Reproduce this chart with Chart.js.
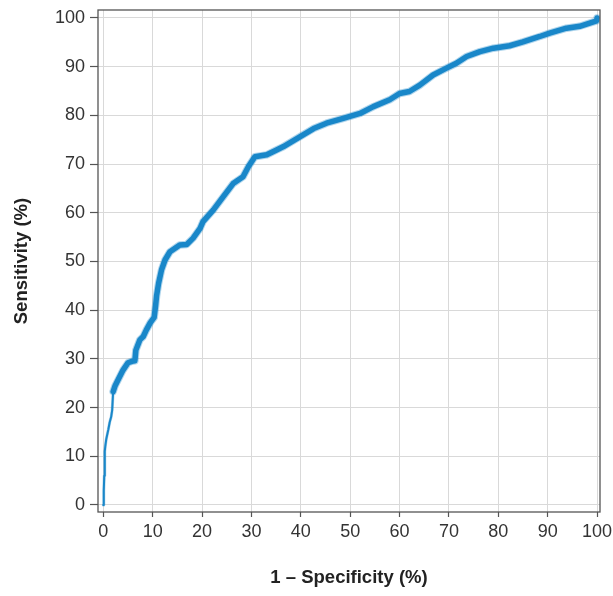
<!DOCTYPE html>
<html>
<head>
<meta charset="utf-8">
<script src="https://cdn.jsdelivr.net/npm/chart.js@4/dist/chart.umd.min.js"></script>
<style>
  html, body { margin: 0; padding: 0; background: #ffffff; }
  #wrap { width: 613px; height: 596px; position: relative; }
</style>
</head>
<body>
<div id="wrap"><canvas id="c" width="613" height="596"></canvas></div>
<script>
// ROC curve (1 - specificity %, sensitivity %)
const fpr = [
  0, 0.1, 0.2, 0.3, 0.4, 0.6, 1.0, 1.3, 1.6, 1.8,
  2.0, 2.4, 3.0, 4.0, 5.0, 5.8, 6.4, 6.6, 7.4, 8.1,
  8.7, 9.5, 10.3, 10.6, 10.8, 11.2, 11.8, 12.5, 13.5, 15.5,
  16.9, 18.2, 19.6, 20.2, 22.3, 24.3, 26.3, 28.3, 29.4, 30.7,
  33.1, 35.1, 36.5, 39.8, 42.6, 45.2, 48.6, 52.0, 54.7, 58.0,
  60.0, 62.0, 64.1, 66.8, 69.5, 71.5, 73.6, 76.3, 79.0, 82.3,
  85.0, 88.4, 90.4, 93.8, 96.5, 99.9, 100
];
const sensitivity = [
  0, 3, 6, 11, 12, 13.5, 15.4, 17.0, 18.1, 19.5,
  23.3, 24.5, 25.7, 27.7, 29.2, 29.5, 29.6, 31.8, 33.9, 34.6,
  35.9, 37.4, 38.5, 41.0, 43.0, 45.5, 48.3, 50.3, 52.0, 53.4,
  53.5, 54.8, 56.8, 58.2, 60.6, 63.3, 66.0, 67.4, 69.5, 71.5,
  71.9, 72.9, 73.6, 75.6, 77.3, 78.4, 79.4, 80.4, 81.8, 83.2,
  84.5, 84.9, 86.2, 88.3, 89.7, 90.7, 92.1, 93.1, 93.8, 94.3,
  95.1, 96.2, 96.9, 97.9, 98.3, 99.4, 100
];
const xTicks = [0, 10, 20, 30, 40, 50, 60, 70, 80, 90, 100];
const yTicks = [0, 10, 20, 30, 40, 50, 60, 70, 80, 90, 100];
const xTitle = '1 \u2013 Specificity (%)';
const yTitle = 'Sensitivity (%)';

const points = fpr.map((x, i) => ({ x: x, y: sensitivity[i] }));
const lineColor = '#1a87c9';

const framePlugin = {
  id: 'frame',
  afterDraw(chart) {
    const { ctx, chartArea: a } = chart;
    ctx.save();
    ctx.strokeStyle = '#555555';
    ctx.lineWidth = 1.3;
    ctx.strokeRect(a.left, a.top, a.right - a.left, a.bottom - a.top);
    ctx.restore();
  }
};

const tickFont = { family: '"Liberation Sans", Arial, Helvetica, sans-serif', size: 18, lineHeight: 1.2 };
const titleFont = { family: '"Liberation Sans", Arial, Helvetica, sans-serif', size: 18.5, weight: 'bold', lineHeight: 1.2 };

new Chart(document.getElementById('c'), {
  type: 'scatter',
  data: {
    datasets: [
      {
        data: points,
        showLine: true,
        borderColor: 'rgba(26,135,201,0.35)',
        borderWidth: 7.5,
        pointRadius: 0,
        borderJoinStyle: 'round',
        borderCapStyle: 'round',
        segment: { borderWidth: ctx => ctx.p0.parsed.x < 1.9 ? 3 : 7.5 }
      },
      {
        data: points,
        showLine: true,
        borderColor: lineColor,
        borderWidth: 5.5,
        pointRadius: 0,
        borderJoinStyle: 'round',
        borderCapStyle: 'round',
        segment: { borderWidth: ctx => ctx.p0.parsed.x < 1.9 ? 2 : 5.5 }
      }
    ]
  },
  options: {
    responsive: false,
    animation: false,
    devicePixelRatio: 1,
    layout: { padding: { left: 0, right: 13, top: 10, bottom: 0 } },
    plugins: { legend: { display: false }, tooltip: { enabled: false } },
    scales: {
      x: {
        type: 'linear',
        min: -1.07,
        max: 100.6,
        afterFit(scale) { scale.height = 84; scale.paddingLeft = 0; scale.paddingRight = 0; },
        afterBuildTicks(scale) { scale.ticks = xTicks.map(v => ({ value: v })); },
        border: { display: false },
        grid: { color: '#d9d9d9', lineWidth: 1, drawTicks: true, tickLength: 5, tickColor: '#555555', tickWidth: 1.2 },
        ticks: { color: '#333333', font: tickFont, padding: 4, maxRotation: 0, autoSkip: false },
        title: { display: true, text: xTitle, color: '#222222', font: titleFont, padding: { top: 0, bottom: 7 } }
      },
      y: {
        type: 'linear',
        min: -1.44,
        max: 101.64,
        afterFit(scale) { scale.width = 98; scale.paddingTop = 0; scale.paddingBottom = 0; },
        afterBuildTicks(scale) { scale.ticks = yTicks.map(v => ({ value: v })); },
        border: { display: false },
        grid: { color: '#d9d9d9', lineWidth: 1, drawTicks: true, tickLength: 8, tickColor: '#555555', tickWidth: 1.2 },
        ticks: { color: '#333333', font: tickFont, padding: 5, autoSkip: false },
        title: { display: true, text: yTitle, color: '#222222', font: titleFont, padding: { top: 11, bottom: 0 } }
      }
    }
  },
  plugins: [framePlugin]
});
</script>
</body>
</html>
